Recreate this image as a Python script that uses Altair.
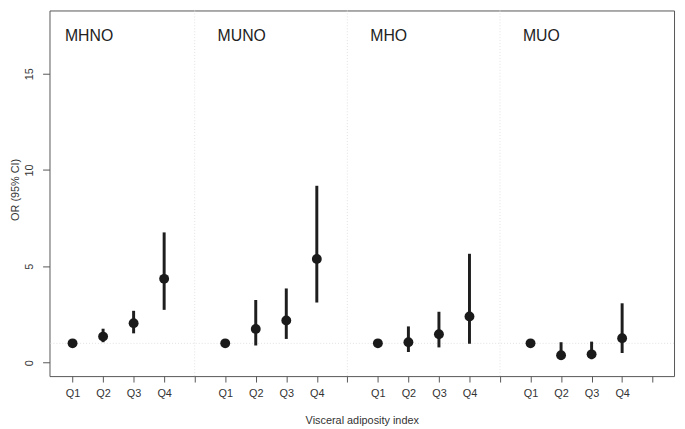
import altair as alt
import pandas as pd

groups = ["MHNO", "MUNO", "MHO", "MUO"]
quartiles = ["Q1", "Q2", "Q3", "Q4"]

mhno_or = [1.0, 1.35, 2.05, 4.35]
mhno_lo = [1.0, 1.06, 1.52, 2.74]
mhno_hi = [1.0, 1.76, 2.69, 6.76]

muno_or = [1.0, 1.75, 2.19, 5.38]
muno_lo = [1.0, 0.89, 1.23, 3.12]
muno_hi = [1.0, 3.25, 3.85, 9.18]

mho_or = [1.0, 1.06, 1.47, 2.40]
mho_lo = [1.0, 0.55, 0.79, 0.98]
mho_hi = [1.0, 1.88, 2.64, 5.65]

muo_or = [1.0, 0.38, 0.43, 1.27]
muo_lo = [1.0, 0.15, 0.18, 0.50]
muo_hi = [1.0, 1.06, 1.09, 3.08]

y_ticks = [0, 5, 10, 15]
reference_value = [1]

series = {
    "MHNO": (mhno_or, mhno_lo, mhno_hi),
    "MUNO": (muno_or, muno_lo, muno_hi),
    "MHO": (mho_or, mho_lo, mho_hi),
    "MUO": (muo_or, muo_lo, muo_hi),
}

rows = []
for gi, g in enumerate(groups):
    o, lo, hi = series[g]
    for qi, q in enumerate(quartiles):
        rows.append({"group": g, "quartile": q, "pos": gi * 5 + qi + 1,
                     "or": o[qi], "lo": lo[qi], "hi": hi[qi]})
df = pd.DataFrame(rows)

sep_df = pd.DataFrame({"pos": [5 * (i + 1) for i in range(len(groups) - 1)]})
ref_df = pd.DataFrame({"v": reference_value})
lab_df = pd.DataFrame({"group": groups,
                       "pos": [gi * 5 + 0.75 for gi in range(len(groups))],
                       "v": [16.95] * len(groups)})

label_array = "[" + ",".join(["''"] + ["'%s'" % q for q in quartiles]) + "]"

xscale = alt.Scale(domain=[0.245, 20.70], nice=False, zero=False)
yscale = alt.Scale(domain=[-0.7, 18.28], nice=False, zero=False)

xaxis = alt.Axis(values=list(range(1, 5 * len(groups) + 1)),
                 labelExpr=label_array + "[datum.value % 5]",
                 title="Visceral adiposity index", grid=False,
                 tickSize=6, labelPadding=6, labelFontSize=11,
                 titleFontSize=11, titleFontWeight="normal",
                 titleY=45, titleBaseline="middle", titleColor="#333")
yaxis = alt.Axis(values=y_ticks, title="OR (95% CI)", grid=False,
                 tickSize=7, labelPadding=8, labelAngle=270,
                 labelAlign="center", labelBaseline="bottom",
                 labelFontSize=11, titleFontSize=11, titleFontWeight="normal",
                 titleAngle=270, titleX=-29, titleY=181, titleAlign="center",
                 titleBaseline="bottom", titleColor="#333")


def X(field):
    return alt.X(field, type="quantitative", scale=xscale, axis=xaxis)


def Y(field):
    return alt.Y(field, type="quantitative", scale=yscale, axis=yaxis)


seps = alt.Chart(sep_df).mark_rule(color="#e2e2e2", strokeWidth=1,
                                   strokeDash=[1, 2]).encode(x=X("pos"))
ref = alt.Chart(ref_df).mark_rule(color="#e2e2e2", strokeWidth=1,
                                  strokeDash=[1, 2]).encode(y=Y("v"))
bars = alt.Chart(df).mark_rule(color="#1e1e1e", strokeWidth=3).encode(
    x=X("pos"), y=Y("lo"), y2="hi")
pts = alt.Chart(df).mark_circle(color="#1a1a1a", opacity=1, size=100).encode(
    x=X("pos"), y=Y("or"))
labels = alt.Chart(lab_df).mark_text(align="left", baseline="middle",
                                     fontSize=16, color="#222",
                                     font="Liberation Sans").encode(
    x=X("pos"), y=Y("v"), text="group")

chart = alt.layer(seps, ref, bars, pts, labels).properties(
    width=632, height=370,
    autosize=alt.AutoSizeParams(type="none"),
    padding={"left": 42, "top": 0, "right": 3, "bottom": 50},
).configure_view(stroke="#555", strokeWidth=1).configure_axis(
    domain=False, tickColor="#555", labelColor="#333",
    labelFont="Liberation Sans", titleFont="Liberation Sans")

chart.save("out.html", embed_options={"renderer": "svg", "actions": False})
